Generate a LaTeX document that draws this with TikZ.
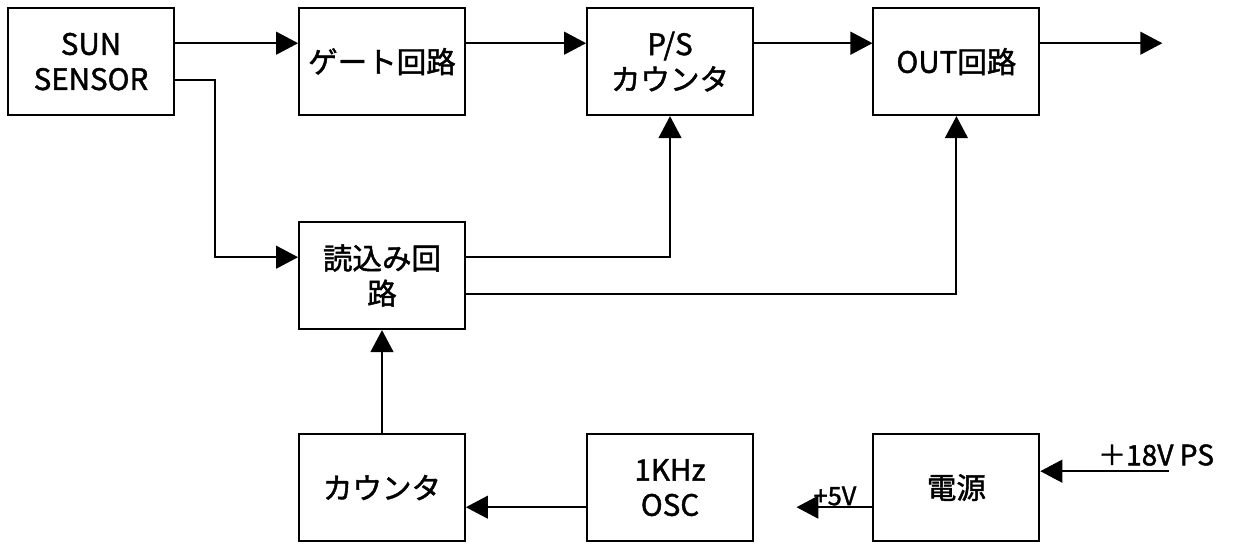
\documentclass[tikz,border=0pt]{standalone}
\usepackage{fontspec}
\setmainfont{Noto Sans CJK JP}[BoldFont={Noto Sans CJK JP}, BoldFeatures={FakeBold=1.5}]
\usetikzlibrary{arrows.meta}

\begin{document}
\begin{tikzpicture}[
	blk/.style={draw, line width=1.3pt, minimum width=4.15cm, minimum height=2.68cm, align=center, font=\fontsize{21}{25}\bfseries},
	arr/.style={line width=1.3pt, -{Triangle[length=.55cm, width=.57cm]}},
	lbl/.style={inner sep=0pt, font=\fontsize{18}{20}\bfseries}
]
	\useasboundingbox (0, 0) rectangle (31, -13.6);
	% top row
	\node[blk] (sun) at (2.275, -1.54) {SUN\\SENSOR};
	\node[blk] (gate) at (9.55, -1.54) {ゲート回路};
	\node[blk] (ps) at (16.75, -1.54) {P/S\\カウンタ};
	\node[blk] (out) at (23.91, -1.54) {OUT回路};
	\node[blk] (read) at (9.55, -6.89) {読込み回\\路};
	% bottom row
	\node[blk] (cnt) at (9.55, -12.19) {カウンタ};
	\node[blk] (osc) at (16.75, -12.19) {1KHz\\OSC};
	\node[blk] (pwr) at (23.91, -12.19) {電源};
	\node[lbl] (v5) at (20.875, -12.4) {+5V};
	\node[lbl, font=\fontsize{20}{22}\bfseries] (v18) at (28.9, -11.375) {＋18V PS};
	\coordinate (outend) at ([xshift=3.05cm, yshift=.46cm]out.east);
	\coordinate (v5end) at ([xshift=-1.9cm, yshift=-.49cm]pwr.west);
	\coordinate (v18end) at ([xshift=3.22cm, yshift=.41cm]pwr.east);

	\draw[arr] ([yshift=.46cm]sun.east) -- ([yshift=.46cm]gate.west);
	\draw[arr] ([yshift=.46cm]gate.east) -- ([yshift=.46cm]ps.west);
	\draw[arr] ([yshift=.46cm]ps.east) -- ([yshift=.46cm]out.west);
	\draw[arr] ([yshift=.46cm]out.east) -- (outend);
	\draw[arr] ([yshift=-.46cm]sun.east) -- ++(1, 0) |- ([yshift=.46cm]read.west);
	\draw[arr] ([yshift=.46cm]read.east) -| (ps.south);
	\draw[arr] ([yshift=-.46cm]read.east) -| (out.south);
	\draw[arr] (cnt.north) -- (read.south);
	\draw[arr] ([yshift=-.49cm]osc.west) -- ([yshift=-.49cm]cnt.east);
	\draw[arr] ([yshift=-.49cm]pwr.west) -- (v5end);
	\draw[arr] (v18end) -- ([yshift=.41cm]pwr.east);
\end{tikzpicture}
\end{document}
